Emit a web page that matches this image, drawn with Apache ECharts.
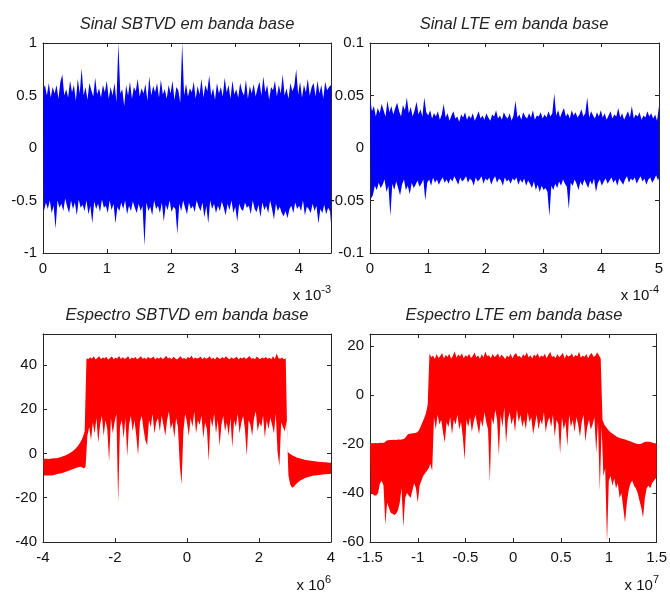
<!DOCTYPE html>
<html>
<head>
<meta charset="utf-8">
<script src="https://cdn.jsdelivr.net/npm/echarts@6/dist/echarts.min.js"></script>
<style>
html,body{margin:0;padding:0;background:#fff}
#chart{width:670px;height:596px}
</style>
</head>
<body>
<div id="chart"></div>
<script>
// ---- Sinal SBTVD em banda base (tempo em unidades de 1e-3 s) ----
const sbtvdTimeRange = [0, 4.5];
const sbtvdSignalUpper = [
0.55,0.6,0.5,0.62,0.48,0.58,0.52,0.6,0.47,0.63,
0.7,0.5,0.56,0.48,0.64,0.53,0.6,0.45,0.66,0.52,
0.76,0.5,0.58,0.46,0.62,0.55,0.49,0.67,0.51,0.57,
0.48,0.6,0.53,0.64,0.47,0.58,0.5,0.62,0.44,1.0,
0.52,0.56,0.4,0.6,0.5,0.63,0.47,0.58,0.54,0.66,
0.49,0.57,0.52,0.61,0.45,0.68,0.5,0.59,0.53,0.62,
0.48,0.65,0.51,0.56,0.47,0.6,0.52,0.64,0.46,0.58,
0.55,0.43,1.0,0.5,0.61,0.49,0.57,0.53,0.63,0.47,
0.59,0.51,0.66,0.48,0.6,0.54,0.69,0.5,0.57,0.46,
0.62,0.52,0.58,0.49,0.67,0.53,0.6,0.47,0.64,0.51,
0.56,0.48,0.62,0.54,0.5,0.65,0.47,0.59,0.52,0.61,
0.49,0.57,0.63,0.5,0.68,0.53,0.6,0.46,0.58,0.55,
0.64,0.49,0.6,0.52,0.7,0.5,0.57,0.47,0.62,0.54,
0.59,0.75,0.51,0.63,0.48,0.6,0.53,0.66,0.5,0.58,
0.62,0.49,0.64,0.52,0.6,0.47,0.63,0.55,0.58,0.6
];
const sbtvdSignalLower = [
-0.6,-0.52,-0.58,-0.5,-0.62,-0.55,-0.77,-0.5,-0.57,-0.53,
-0.6,-0.48,-0.56,-0.62,-0.5,-0.58,-0.52,-0.64,-0.49,-0.57,
-0.54,-0.6,-0.5,-0.63,-0.55,-0.72,-0.51,-0.58,-0.53,-0.61,
-0.49,-0.57,-0.55,-0.62,-0.5,-0.59,-0.53,-0.72,-0.56,-0.6,
-0.52,-0.58,-0.5,-0.63,-0.55,-0.6,-0.51,-0.57,-0.62,-0.53,
-0.6,-0.55,-0.93,-0.52,-0.6,-0.56,-0.64,-0.5,-0.58,-0.55,
-0.62,-0.52,-0.7,-0.54,-0.59,-0.5,-0.61,-0.56,-0.58,-0.82,
-0.53,-0.6,-0.5,-0.57,-0.63,-0.52,-0.58,-0.55,-0.61,-0.5,
-0.56,-0.6,-0.52,-0.66,-0.55,-0.72,-0.5,-0.58,-0.53,-0.62,
-0.55,-0.6,-0.51,-0.57,-0.64,-0.53,-0.59,-0.5,-0.62,-0.56,
-0.7,-0.53,-0.58,-0.6,-0.52,-0.57,-0.55,-0.63,-0.5,-0.58,
-0.61,-0.54,-0.66,-0.52,-0.59,-0.55,-0.62,-0.5,-0.58,-0.68,
-0.53,-0.6,-0.56,-0.62,-0.65,-0.6,-0.67,-0.58,-0.55,-0.62,
-0.52,-0.58,-0.55,-0.6,-0.5,-0.64,-0.56,-0.58,-0.62,-0.53,
-0.6,-0.55,-0.72,-0.58,-0.62,-0.54,-0.63,-0.57,-0.6,-0.72
];

// ---- Sinal LTE em banda base (tempo em unidades de 1e-4 s) ----
const lteTimeRange = [0, 5];
const lteSignalUpper = [
0.048,0.035,0.04,0.03,0.038,0.033,0.042,0.036,0.03,0.045,
0.034,0.04,0.032,0.038,0.043,0.035,0.03,0.041,0.036,0.048,
0.033,0.039,0.03,0.036,0.044,0.032,0.037,0.03,0.048,0.034,
0.031,0.036,0.028,0.033,0.03,0.035,0.027,0.032,0.042,0.029,
0.033,0.026,0.031,0.035,0.028,0.03,0.025,0.032,0.029,0.034,
0.027,0.031,0.028,0.033,0.026,0.03,0.035,0.028,0.031,0.027,
0.033,0.029,0.026,0.032,0.03,0.036,0.028,0.031,0.027,0.034,
0.03,0.028,0.033,0.026,0.031,0.045,0.029,0.032,0.027,0.034,
0.03,0.028,0.033,0.029,0.036,0.027,0.031,0.03,0.034,0.028,
0.032,0.029,0.035,0.03,0.033,0.052,0.031,0.036,0.029,0.034,
0.038,0.03,0.033,0.028,0.036,0.031,0.034,0.029,0.032,0.037,
0.03,0.033,0.048,0.029,0.035,0.031,0.028,0.034,0.03,0.036,
0.029,0.033,0.027,0.031,0.035,0.028,0.032,0.03,0.038,0.029,
0.033,0.027,0.031,0.035,0.029,0.04,0.028,0.032,0.03,0.034,
0.027,0.031,0.029,0.035,0.03,0.033,0.028,0.032,0.026,0.04
];
const lteSignalLower = [
-0.048,-0.045,-0.036,-0.04,-0.033,-0.038,-0.035,-0.03,-0.042,-0.036,
-0.065,-0.034,-0.04,-0.032,-0.038,-0.045,-0.035,-0.03,-0.04,-0.036,
-0.044,-0.033,-0.038,-0.035,-0.031,-0.037,-0.034,-0.03,-0.05,-0.033,
-0.03,-0.036,-0.028,-0.033,-0.03,-0.035,-0.031,-0.028,-0.033,-0.03,
-0.034,-0.029,-0.032,-0.027,-0.031,-0.035,-0.028,-0.032,-0.03,-0.027,
-0.033,-0.029,-0.031,-0.036,-0.028,-0.032,-0.03,-0.027,-0.034,-0.029,
-0.031,-0.028,-0.035,-0.03,-0.027,-0.033,-0.029,-0.031,-0.036,-0.028,
-0.032,-0.03,-0.034,-0.029,-0.031,-0.028,-0.035,-0.03,-0.033,-0.029,
-0.036,-0.031,-0.034,-0.038,-0.032,-0.04,-0.035,-0.042,-0.036,-0.04,
-0.038,-0.042,-0.065,-0.036,-0.04,-0.034,-0.038,-0.032,-0.036,-0.03,
-0.034,-0.037,-0.058,-0.033,-0.036,-0.03,-0.034,-0.04,-0.032,-0.036,
-0.03,-0.034,-0.038,-0.031,-0.035,-0.029,-0.042,-0.033,-0.03,-0.036,
-0.032,-0.029,-0.034,-0.031,-0.028,-0.033,-0.03,-0.036,-0.029,-0.032,
-0.035,-0.03,-0.027,-0.033,-0.029,-0.031,-0.028,-0.034,-0.03,-0.027,
-0.032,-0.029,-0.035,-0.03,-0.028,-0.033,-0.03,-0.026,-0.031,-0.028
];

// ---- Espectro SBTVD em banda base (frequencia em unidades de 1e6 Hz, dB) ----
const sbtvdFreqRange = [-4, 4];
const sbtvdSpecUpper = [
-2.4,-2.4,-2.4,-2.5,-2.4,-2.3,-2.2,-2.1,-2,-1.8,
-1.6,-1.3,-1,-0.6,-0.2,0.3,0.8,1.5,2.3,3.2,
4.3,5.6,7.4,10,
43,42.6,43.5,42.8,43.9,42.5,43.2,44,42.7,43.4,
42.9,43.7,42.4,43.1,43.8,42.6,43.3,42.9,44.1,42.7,
43.5,42.8,43.2,43.9,42.5,43.4,42.9,43.6,42.6,43.2,
44,42.8,43.3,42.6,43.7,42.9,43.1,43.8,42.5,43.4,
42.8,43.6,42.7,43.2,44.2,42.9,43.4,42.6,43.7,43,
42.5,43.3,43.9,42.8,43.1,42.6,43.6,43,44.3,42.7,
43.4,42.9,43.2,43.8,42.6,43.5,42.8,43.1,43.9,42.7,
43.3,42.5,43.7,43,42.8,43.6,42.9,44,43.2,42.6,
43.5,42.8,43.1,43.7,42.5,43.4,42.9,43.6,42.7,43.3,
44.1,42.8,43.2,42.6,43.8,43,42.7,43.4,42.9,43.6,
42.8,43.3,42.6,43.9,42.7,45.2,43.1,42.8,43.4,42.6,
43,
1,0,-0.5,-1,-1.4,-1.8,-2,-2.3,-2.5,-2.7,
-2.9,-3,-3.2,-3.3,-3.4,-3.5,-3.6,-3.7,-3.8,-3.9,
-4,-4,-4.1,-4.2,-4.2
];
const sbtvdSpecLower = [
-10,-10,-10,-10,-9.9,-9.8,-9.6,-9.4,-9.2,-9,
-8.8,-8.6,-8.3,-8,-7.7,-7.4,-7.1,-6.8,-6.5,-6.2,
-6,-6.2,-6.8,-6,
8,12,6,14,9,16,5,13,17,8,
15,11,-3.7,16,9,14,18,-22,12,15,
7,16,-1.2,13,17,10,15,8,-0.8,14,
17,11,6,3.7,15,12,18,9,14,16,
10,17,13,8,15,19,11,14,7,16,
12,-5,-14,10,18,14,8,16,12,19,
9,15,13,17,7,14,11,-3.5,16,12,
18,9,15,3.5,13,17,10,14,8,16,
2.7,15,12,18,9,14,17,11,-1.1,15,
13,8,16,19,10,14,12,17,7,15,
11,16,13,9,18,0.6,-5.7,14,12,10,
15,
-10,-14,-15.5,-15,-14,-13.2,-12.5,-12,-11.6,-11.2,
-10.9,-10.6,-10.4,-10.2,-10,-9.9,-9.8,-9.7,-9.6,-9.5,
-9.4,-9.4,-9.3,-9.3,-9.2
];

// ---- Espectro LTE em banda base (frequencia em unidades de 1e7 Hz, dB) ----
const lteFreqRange = [-1.5, 1.5];
const lteSpecUpper = [
-19.5,-19.6,-19.6,-19.5,-19.6,-19.5,-19.4,-19.5,-19.3,-18.6,
-18.4,-18.3,-18.3,-18.2,-18.3,-18.2,-18.1,-18.2,-18,-17.8,
-17,-16,-15.8,-15.7,-15.6,-15.5,-15.3,-14.5,-13,-11.2,
-9.5,-7.5,-4,
17,15.5,16.2,14.8,16.8,15.2,16,17.2,15,16.4,
15.6,16.9,14.9,16.1,18,15.3,16.6,15.8,17.1,15.1,
16.3,15.7,16.9,15.2,16,17.4,15.5,16.2,14.9,16.7,
15.4,17.8,15.9,16.3,15.1,16.8,15.6,16.1,17,15.3,
16.5,15.8,14.8,16.2,15.5,16.9,15.1,16.4,17.2,15.7,
16,15.2,16.7,15.9,17.5,15.4,16.3,15,16.6,15.8,
17.1,15.3,16.2,15.7,16.9,15.1,16.5,17.6,15.6,16,
15.2,16.8,15.5,16.3,17.3,15,16.6,15.8,16.1,17,
15.4,16.4,15.9,17.7,15.3,16.2,15.6,16.8,15.1,16.5,
17.2,15.7,16,17.5,16.3,15,
-10,-12,-13,-14,-14.8,-15.5,-16,-16.5,-17,-17.3,
-17.6,-17.8,-18,-18.2,-18.5,-18.7,-19,-19.3,-19.6,-19.8,
-20,-20,-19.6,-19.2,-19,-19,-19,-19.2,-19.4,-19.6,
-19.8
];
const lteSpecLower = [
-40,-40.5,-41,-41,-40,-36,-35,-37,-53,-44,
-46,-48,-48.5,-49,-48.5,-47,-44,-38,-54,-42,
-40,-41,-42,-39,-36,-38,-44,-37,-35,-33,
-32,-31,-30,
-28,-31,-9,-14,-8,-12,-10,-15,-19.4,-11,
-13,-9,-16,-10,-12,-8,-14,-11,-17,-26.5,
-10,-13,-9,-15,-11,-8,-12,-16,-10,-13,
-7,-11,-14,-35.7,-9,-12,-6,-10,-24.5,-8,
-13,-5,-19.6,-10,-7,-12,-9,-15,-6,-11,
-8,-13,-10,-14,-7,-11,-9,-16,-12,-8,
-14,-10,-12,-7,-15,-11,-9,-13,-8,-17,
-10,-12,-24,-9,-14,-11,-21,-8,-13,-10,
-15,-9,-12,-17,-11,-8,-19,-13,-10,-14,
-12,-9,-23.5,-11,-39,-13,
-33,-30,-60,-35,-33,-37,-34,-38,-36,-42,
-40,-46,-52,-44,-39,-36,-35,-37,-38,-40,
-43,-46,-50,-42,-38,-37,-38,-36,-35,-34,
-33
];

const FONT = '"Liberation Sans", Arial, Helvetica, sans-serif';
const INK = '#111';
const BOX = '#262626';

const grids = [
  { left: 43, top: 43, width: 288, height: 210 },
  { left: 370, top: 43, width: 289, height: 210 },
  { left: 43, top: 334, width: 288, height: 208 },
  { left: 370, top: 334, width: 289, height: 208 }
];

const panels = [
  { x: sbtvdTimeRange, xi: 1, y: [-1, 1], yi: 0.5, color: '#0000ff',
    upper: sbtvdSignalUpper, lower: sbtvdSignalLower },
  { x: lteTimeRange, xi: 1, y: [-0.1, 0.1], yi: 0.05, color: '#0000ff',
    upper: lteSignalUpper, lower: lteSignalLower },
  { x: sbtvdFreqRange, xi: 2, y: [-40, 54], yi: 20, color: '#ff0000',
    upper: sbtvdSpecUpper, lower: sbtvdSpecLower },
  { x: lteFreqRange, xi: 0.5, y: [-60, 25], yi: 20, color: '#ff0000',
    upper: lteSpecUpper, lower: lteSpecLower }
];

function onTick(v, step) {
  const r = v / step;
  return Math.abs(r - Math.round(r)) < 1e-6;
}

// Sample slots as [x, trough, peak].
function envelopeItems(range, upper, lower) {
  const dt = (range[1] - range[0]) / (upper.length - 1);
  return upper.map((u, i) => [range[0] + i * dt, lower[i], u]);
}

// The whole envelope is one filled outline: peaks left to right along the
// top, troughs right to left along the bottom (troughs sit half a slot later).
function envelopeRenderer(items, range, color) {
  const dt = (range[1] - range[0]) / (items.length - 1);
  return function (params, api) {
    if (params.dataIndex !== 0) return null;
    const top = items.map(d => api.coord([d[0], d[2]]));
    const bottom = items.map(d => api.coord([Math.min(d[0] + dt / 2, range[1]), d[1]]));
    const pts = top.concat(bottom.reverse());
    return { type: 'polygon', shape: { points: pts }, style: { fill: color } };
  };
}

const xAxes = [], yAxes = [], series = [];
panels.forEach((p, g) => {
  const line = { show: true, onZero: false, lineStyle: { color: BOX, width: 1 } };
  const tick = { show: true, inside: true, length: 4, lineStyle: { color: BOX, width: 1 } };
  const lbl = (step, margin) => ({
    show: true, color: INK, fontSize: 15, fontFamily: FONT, margin: margin,
    formatter: v => onTick(v, step) ? String(+v.toFixed(6)) : ''
  });
  ['bottom', 'top'].forEach(pos => xAxes.push({
    type: 'value', gridIndex: g, position: pos, min: p.x[0], max: p.x[1], interval: p.xi,
    axisLine: line, axisTick: tick, splitLine: { show: false },
    axisLabel: pos === 'bottom' ? lbl(p.xi, 8) : { show: false }
  }));
  ['left', 'right'].forEach(pos => yAxes.push({
    type: 'value', gridIndex: g, position: pos, min: p.y[0], max: p.y[1], interval: p.yi,
    axisLine: line, axisTick: tick, splitLine: { show: false },
    axisLabel: pos === 'left' ? lbl(p.yi, 6) : { show: false }
  }));
  const items = envelopeItems(p.x, p.upper, p.lower);
  series.push({
    type: 'custom', xAxisIndex: 2 * g, yAxisIndex: 2 * g,
    data: items, encode: { x: 0, y: [1, 2] },
    renderItem: envelopeRenderer(items, p.x, p.color),
    silent: true, clip: true, z: 3
  });
});

function titleText(x, y, text) {
  return { type: 'text', x: x, y: y, silent: true,
    style: { text: text, align: 'center', verticalAlign: 'middle', fill: '#222',
      fontSize: 16.5, fontStyle: 'italic', fontFamily: FONT } };
}
function scaleText(x, y, exp) {
  return { type: 'text', x: x, y: y, silent: true,
    style: { text: '{m|x 10}{e|' + exp + '}', align: 'right', verticalAlign: 'middle', fill: INK,
      rich: {
        m: { fontSize: 15, fontFamily: FONT, lineHeight: 24, fill: INK },
        e: { fontSize: 11, fontFamily: FONT, lineHeight: 10, verticalAlign: 'top', fill: INK }
      } } };
}

const chart = echarts.init(document.getElementById('chart'), null, { renderer: 'canvas' });
chart.setOption({
  animation: false,
  backgroundColor: '#fff',
  grid: grids,
  xAxis: xAxes,
  yAxis: yAxes,
  series: series,
  graphic: [
    titleText(187, 24, 'Sinal SBTVD em banda base'),
    titleText(514, 24, 'Sinal LTE em banda base'),
    titleText(187, 315, 'Espectro SBTVD em banda base'),
    titleText(514, 315, 'Espectro LTE em banda base'),
    scaleText(331, 296, '-3'),
    scaleText(659, 296, '-4'),
    scaleText(331, 586, '6'),
    scaleText(659, 586, '7')
  ]
});
</script>
</body>
</html>
